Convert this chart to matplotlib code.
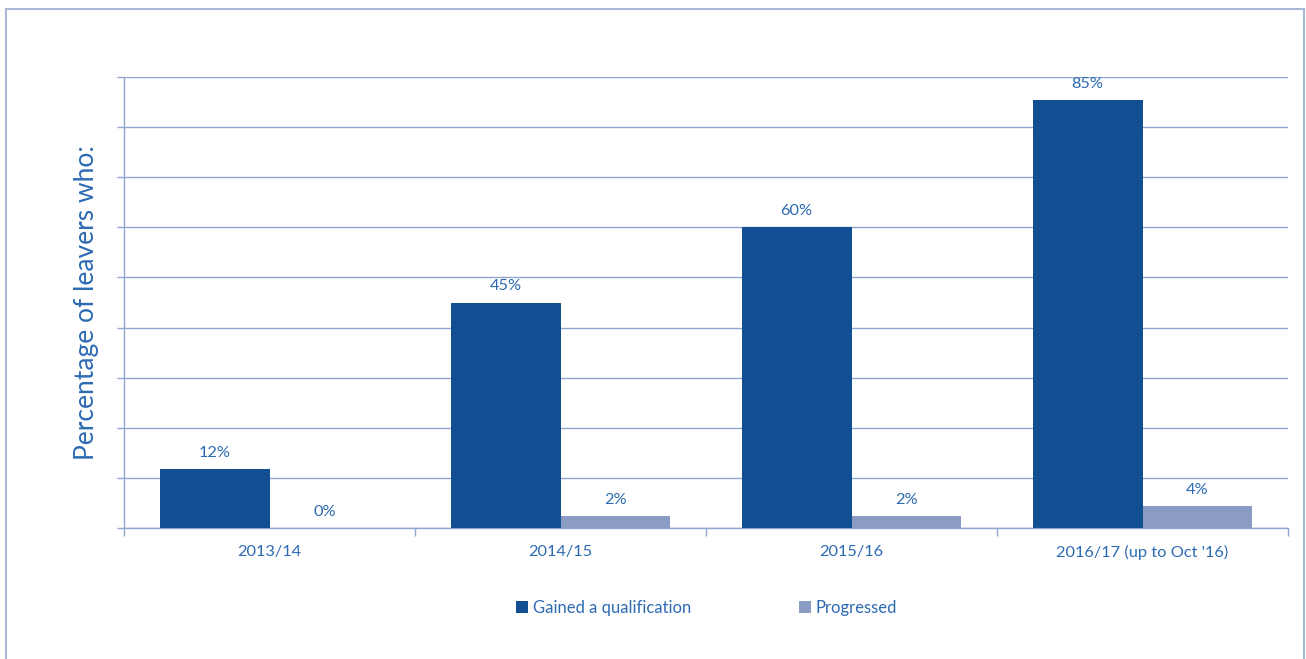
import matplotlib.pyplot as plt
import numpy as np

plt.rcParams['font.family'] = ['Lato', 'DejaVu Sans']

years = ['2013/14', '2014/15', '2015/16', "2016/17 (up to Oct '16)"]
gained = [11.8, 45, 60, 85.5]
progressed = [0, 2.4, 2.4, 4.4]
gained_labels = ['12%', '45%', '60%', '85%']
progressed_labels = ['0%', '2%', '2%', '4%']

dark = '#114f92'
light = '#8a9cc4'
txt = '#2c6ab3'
grid = '#8ea6d2'

fig = plt.figure(figsize=(13.06, 6.59), dpi=100)
ax = fig.add_axes([124 / 1306, 1 - 528 / 659, (1288 - 124) / 1306, (528 - 77) / 659])

x = np.arange(len(years))
w = 0.378
b1 = ax.bar(x - w / 2, gained, w, color=dark, label='Gained a qualification', zorder=3)
b2 = ax.bar(x + w / 2, progressed, w, color=light, label='Progressed', zorder=3)

for rect, lab in zip(b1, gained_labels):
    ax.text(rect.get_x() + rect.get_width() / 2, rect.get_height() + 1.8, lab,
            ha='center', va='bottom', color=txt, fontsize=11.8)
for rect, lab in zip(b2, progressed_labels):
    ax.text(rect.get_x() + rect.get_width() / 2, rect.get_height() + 1.8, lab,
            ha='center', va='bottom', color=txt, fontsize=11.8)

ax.set_xlim(-0.5, 3.5)
ax.set_ylim(0, 90)
ax.set_yticks(np.arange(0, 91, 10))
ax.set_yticklabels([])
ax.yaxis.grid(True, color=grid, linewidth=1, zorder=0)
ax.tick_params(axis='y', length=5, color=grid, width=1)

ax.set_xticks(np.arange(-0.5, 4, 1))
ax.set_xticklabels([])
ax.tick_params(axis='x', which='major', length=6, color=grid, width=1)
ax.set_xticks(x, minor=True)
ax.set_xticklabels(years, minor=True, color=txt, fontsize=11.8)
ax.tick_params(axis='x', which='minor', length=0, pad=12)

for s in ['top', 'right']:
    ax.spines[s].set_visible(False)
for s in ['left', 'bottom']:
    ax.spines[s].set_color(grid)
    ax.spines[s].set_linewidth(1)

ax.set_ylabel('Percentage of leavers who:', color=txt, fontsize=19)
ax.yaxis.set_label_coords(-(124 - 99) / 1164, 0.5)

leg = fig.legend(handles=[b1, b2], loc='center', bbox_to_anchor=(0.541, 1 - 608 / 659),
                 ncol=2, frameon=False, fontsize=12, columnspacing=6.5,
                 handlelength=0.7, handleheight=0.7, handletextpad=0.3)
for t in leg.get_texts():
    t.set_color(txt)

# outer frame (left, top, right)
frame_c = '#a9b8d8'
fig.add_artist(plt.Line2D([6 / 1306, 6 / 1306], [0, 1 - 9 / 659], color=frame_c, lw=1.5))
fig.add_artist(plt.Line2D([6 / 1306, 1304 / 1306], [1 - 9 / 659, 1 - 9 / 659], color=frame_c, lw=1.5))
fig.add_artist(plt.Line2D([1304 / 1306, 1304 / 1306], [0, 1 - 9 / 659], color=frame_c, lw=1.5))

fig.savefig('out.png', dpi=100)
